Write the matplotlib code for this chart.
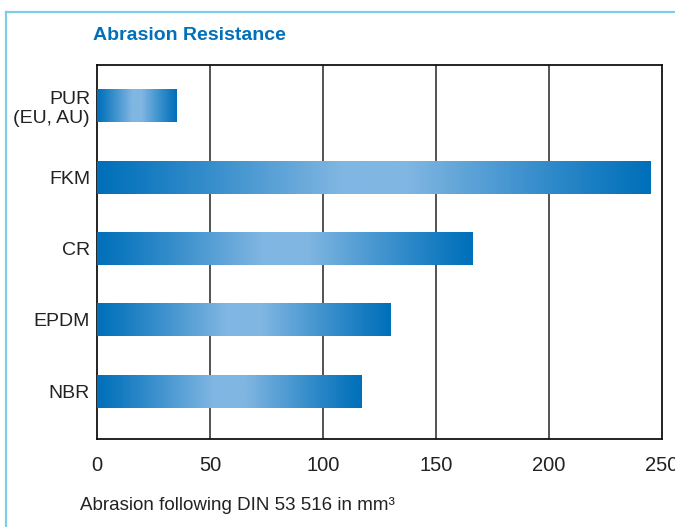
import matplotlib
matplotlib.use('Agg')
import matplotlib.pyplot as plt
import numpy as np
from matplotlib.colors import LinearSegmentedColormap
from matplotlib.lines import Line2D

plt.rcParams['font.family'] = ['Liberation Sans', 'DejaVu Sans']

materials = ['NBR', 'EPDM', 'CR', 'FKM', 'PUR\n(EU, AU)']
abrasion = [117, 130, 166, 245, 35]
xticks = [0, 50, 100, 150, 200, 250]

dark_blue = '#0070BA'
light_blue = '#80B6E2'
bar_cmap = LinearSegmentedColormap.from_list('bar', [dark_blue, light_blue])

fig = plt.figure(figsize=(6.75, 5.27), dpi=100)
ax = fig.add_axes([97 / 675, 1 - 439 / 527, 565 / 675, 374 / 527])

# gradient: dark at both ends, light in the middle
t = np.linspace(0, 1, 400)
mix = np.clip((0.5 - np.abs(t - 0.5)) / 0.44, 0, 1)
mix = mix ** 1.1
grad = mix[np.newaxis, :]

h = 0.46
for i, val in enumerate(abrasion):
    ax.imshow(grad, cmap=bar_cmap, vmin=0, vmax=1, aspect='auto',
              extent=(0, val, i - h / 2, i + h / 2), interpolation='bilinear', zorder=3)

ax.set_xlim(0, 250)
ax.set_ylim(-0.67, 4.575)
ax.set_xticks(xticks)
ax.set_xticklabels([str(v) for v in xticks])
ax.set_yticks(range(len(materials)))
ax.set_yticklabels(materials, ha='right', linespacing=1.15)
ax.tick_params(axis='both', length=0, labelcolor='#222222')
ax.tick_params(axis='x', pad=12, labelsize=14.5)
ax.tick_params(axis='y', pad=5, labelsize=14)
for v in xticks[1:-1]:
    ax.axvline(v, color='#444444', lw=1.3, zorder=1)
for s in ax.spines.values():
    s.set_color('#111111')
    s.set_linewidth(1.3)

fig.text(93 / 675, 1 - 36 / 527, 'Abrasion Resistance', color=dark_blue,
         fontsize=14, fontweight='bold', va='center', ha='left')
fig.text(80 / 675, 1 - 505 / 527, 'Abrasion following DIN 53 516 in mm³',
         color='#222222', fontsize=13.5, va='center', ha='left')

# light blue frame (top and left edges)
frame = '#7DCCEA'
fig.add_artist(Line2D([6 / 675, 6 / 675], [0, 1 - 12 / 527], color=frame, lw=1.6,
                      transform=fig.transFigure))
fig.add_artist(Line2D([6 / 675, 1], [1 - 12 / 527, 1 - 12 / 527], color=frame, lw=1.6,
                      transform=fig.transFigure))

fig.savefig('out.png', dpi=100)
